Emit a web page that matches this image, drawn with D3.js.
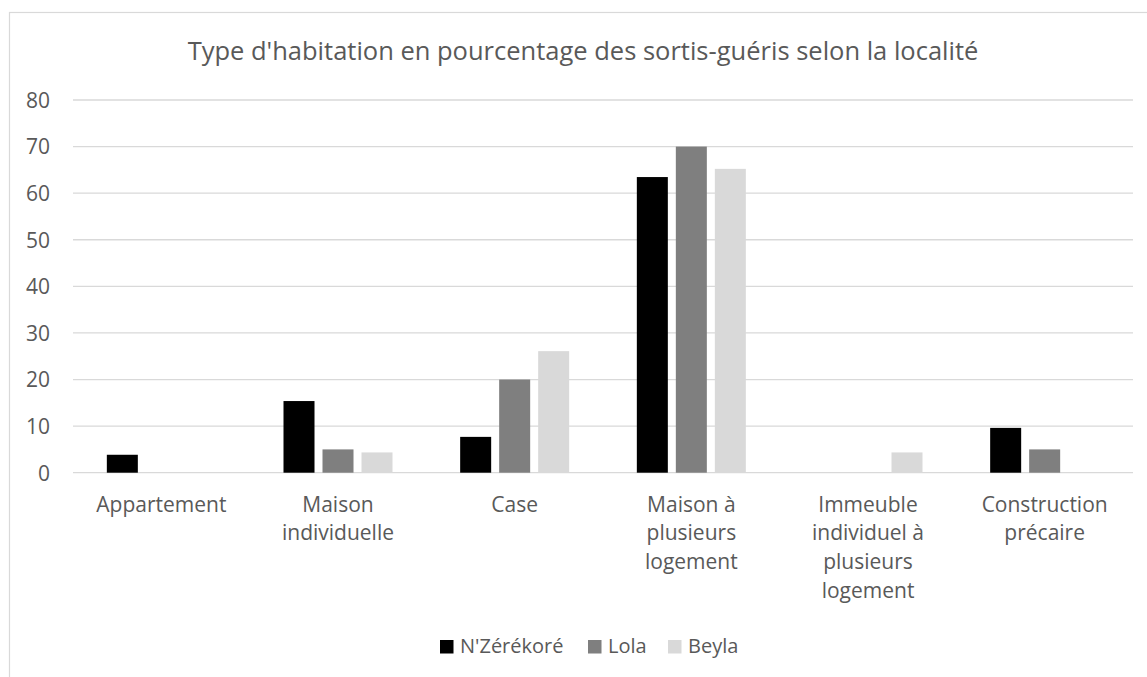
<!DOCTYPE html>
<html>
<head>
<meta charset="utf-8">
<script src="https://cdn.jsdelivr.net/npm/d3@7"></script>
<style>
  html, body { margin: 0; padding: 0; background: #fff; }
  svg { display: block; }
  text { font-family: "Open Sans", "DejaVu Sans", sans-serif; fill: #595959; }
</style>
</head>
<body>
<svg id="chart" width="1147" height="677"></svg>
<script>
const title = "Type d'habitation en pourcentage des sortis-guéris selon la localité";
const categories = [
  "Appartement",
  "Maison\nindividuelle",
  "Case",
  "Maison à\nplusieurs\nlogement",
  "Immeuble\nindividuel à\nplusieurs\nlogement",
  "Construction\nprécaire"
];
const seriesNames = ["N'Zérékoré", "Lola", "Beyla"];
const nzerekore = [3.85, 15.38, 7.69, 63.46, 0, 9.62];
const lola = [0, 5, 20, 70, 0, 5];
const beyla = [0, 4.35, 26.09, 65.22, 4.35, 0];
const seriesColors = ["#000000", "#7f7f7f", "#d9d9d9"];
const yTicks = [0, 10, 20, 30, 40, 50, 60, 70, 80];

const seriesValues = [nzerekore, lola, beyla];
const data = categories.map((c, i) => ({
  cat: c,
  vals: seriesNames.map((s, j) => ({ s, v: seriesValues[j][i] }))
}));

const svg = d3.select("#chart");

// chart border
svg.append("rect")
  .attr("x", 9.5).attr("y", 12.5)
  .attr("width", 1200).attr("height", 700)
  .attr("fill", "none").attr("stroke", "#d9d9d9").attr("stroke-width", 1.2);

const plot = { left: 73, right: 1133, top: 100, bottom: 472.7 };

const x0 = d3.scaleBand().domain(categories).range([plot.left, plot.right]).padding(0);
const x1 = d3.scaleBand().domain(seriesNames)
  .range([x0.bandwidth() / 2 - 58.5, x0.bandwidth() / 2 + 58.5])
  .paddingInner(0.205).paddingOuter(0.1025);
const y = d3.scaleLinear().domain([0, 80]).range([plot.bottom, plot.top]);

// gridlines
svg.append("g").selectAll("line").data(yTicks).join("line")
  .attr("x1", plot.left).attr("x2", plot.right)
  .attr("y1", d => y(d)).attr("y2", d => y(d))
  .attr("stroke", "#d9d9d9").attr("stroke-width", 1.3);

// y axis labels
const yAxis = d3.axisLeft(y).tickValues(yTicks).tickSize(0).tickPadding(0);
const gy = svg.append("g").attr("transform", `translate(50,0)`).call(yAxis);
gy.select(".domain").remove();
gy.selectAll("text").attr("font-size", 21).attr("font-family", null).attr("fill", "#595959").attr("dy", "0.35em");

// bars
const groups = svg.append("g").selectAll("g").data(data).join("g")
  .attr("transform", d => `translate(${x0(d.cat)},0)`);
groups.selectAll("rect").data(d => d.vals).join("rect")
  .attr("x", d => x1(d.s))
  .attr("width", x1.bandwidth())
  .attr("y", d => y(d.v))
  .attr("height", d => y(0) - y(d.v))
  .attr("fill", (d, i) => seriesColors[i]);

// x axis labels
const xAxis = d3.axisBottom(x0).tickSize(0).tickFormat("");
const gx = svg.append("g").attr("transform", `translate(0,${plot.bottom})`).call(xAxis);
gx.select(".domain").remove();
gx.selectAll(".tick").each(function(d) {
  const t = d3.select(this).append("text")
    .attr("text-anchor", "middle").attr("font-size", 21).attr("fill", "#595959");
  d.split("\n").forEach((line, i) => {
    t.append("tspan").attr("x", 0).attr("y", 39 + i * 28.8).text(line);
  });
});

// title
svg.append("text")
  .attr("x", 583).attr("y", 60)
  .attr("text-anchor", "middle")
  .attr("font-size", 25.5)
  .text(title);

// legend
const legendX = [440, 588, 668];
const lg = svg.append("g").selectAll("g").data(seriesNames).join("g")
  .attr("transform", (d, i) => `translate(${legendX[i]},640)`);
lg.append("rect").attr("width", 13.5).attr("height", 13.5)
  .attr("fill", (d, i) => seriesColors[i]);
lg.append("text").attr("x", 20).attr("y", 12.5).attr("font-size", 20).text(d => d);
</script>
</body>
</html>
